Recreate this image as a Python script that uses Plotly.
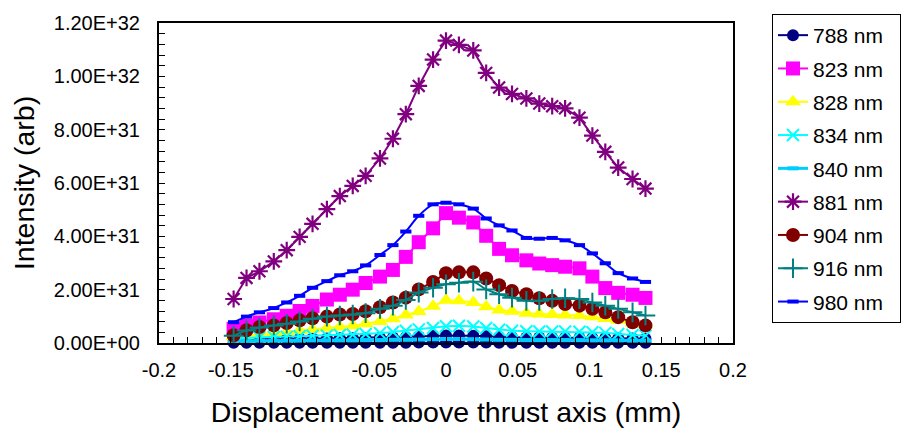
import plotly.graph_objects as go

# ---------------- data ----------------
x_mm = [-0.148, -0.139, -0.130, -0.120, -0.111, -0.102, -0.093, -0.083,
        -0.074, -0.065, -0.056, -0.046, -0.037, -0.028, -0.019, -0.009,
        0.000, 0.009, 0.019, 0.028, 0.037, 0.046, 0.056, 0.065,
        0.074, 0.083, 0.093, 0.102, 0.111, 0.120, 0.130, 0.139]

base_row = [1.0e29, 1.0e29, 1.0e29, 1.0e29, 1.0e29, 1.0e29, 1.0e29, 1.0e29,
            1.0e29, 1.0e29, 1.0e29, 1.0e29, 1.0e29, 1.0e29, 1.5e29, 1.5e29,
            2.0e29, 2.0e29, 1.5e29, 1.5e29, 1.0e29, 1.0e29, 1.0e29, 1.0e29,
            1.0e29, 1.0e29, 1.0e29, 1.0e29, 1.0e29, 1.0e29, 1.0e29, 1.0e29]

s788 = [1.3e30, 1.4e30, 1.5e30, 1.5e30, 1.6e30, 1.6e30, 1.7e30, 1.7e30,
        1.8e30, 1.8e30, 1.9e30, 2.0e30, 2.1e30, 2.2e30, 2.4e30, 2.6e30,
        2.8e30, 2.8e30, 2.7e30, 2.5e30, 2.3e30, 2.2e30, 2.1e30, 2.1e30,
        2.0e30, 2.0e30, 2.0e30, 1.9e30, 1.9e30, 1.8e30, 1.7e30, 1.6e30]

s823 = [5.3e30, 6.5e30, 7.7e30, 8.9e30, 1.02e31, 1.20e31, 1.39e31, 1.63e31,
        1.81e31, 2.00e31, 2.25e31, 2.49e31, 2.74e31, 3.23e31, 3.78e31, 4.30e31,
        4.87e31, 4.70e31, 4.52e31, 4.02e31, 3.53e31, 3.29e31, 3.10e31, 2.98e31,
        2.92e31, 2.86e31, 2.80e31, 2.49e31, 2.06e31, 1.88e31, 1.81e31, 1.69e31]

s828 = [2.3e30, 2.8e30, 3.3e30, 3.8e30, 4.2e30, 4.7e30, 5.2e30, 5.6e30,
        6.0e30, 6.5e30, 7.2e30, 8.1e30, 9.1e30, 1.05e31, 1.18e31, 1.38e31,
        1.60e31, 1.58e31, 1.52e31, 1.36e31, 1.24e31, 1.19e31, 1.12e31, 1.09e31,
        1.07e31, 1.05e31, 1.03e31, 9.8e30, 9.2e30, 8.5e30, 7.5e30, 6.8e30]

s834 = [1.8e30, 2.0e30, 2.1e30, 2.3e30, 2.4e30, 2.5e30, 2.7e30, 2.8e30,
        3.0e30, 3.1e30, 3.4e30, 3.7e30, 4.1e30, 4.6e30, 5.1e30, 5.6e30,
        6.3e30, 6.5e30, 6.2e30, 5.6e30, 5.0e30, 4.6e30, 4.4e30, 4.3e30,
        4.3e30, 4.3e30, 4.2e30, 4.0e30, 3.8e30, 3.4e30, 3.0e30, 2.7e30]

s840 = [0.8e30, 0.8e30, 0.9e30, 0.9e30, 0.9e30, 0.9e30, 1.0e30, 1.0e30,
        1.0e30, 1.0e30, 1.1e30, 1.1e30, 1.2e30, 1.2e30, 1.3e30, 1.4e30,
        1.5e30, 1.5e30, 1.4e30, 1.3e30, 1.2e30, 1.2e30, 1.1e30, 1.1e30,
        1.1e30, 1.1e30, 1.1e30, 1.0e30, 1.0e30, 1.0e30, 0.9e30, 0.9e30]

s881 = [1.65e31, 2.44e31, 2.69e31, 3.06e31, 3.48e31, 3.98e31, 4.47e31, 5.02e31,
        5.51e31, 5.89e31, 6.27e31, 6.92e31, 7.66e31, 8.58e31, 9.64e31, 1.063e32,
        1.134e32, 1.118e32, 1.097e32, 1.013e32, 9.58e31, 9.34e31, 9.17e31, 8.98e31,
        8.88e31, 8.80e31, 8.45e31, 7.78e31, 7.17e31, 6.58e31, 6.15e31, 5.79e31]

s904 = [2.9e30, 4.8e30, 6.0e30, 6.6e30, 7.5e30, 8.5e30, 9.3e30, 9.9e30,
        1.07e31, 1.09e31, 1.19e31, 1.34e31, 1.52e31, 1.70e31, 2.01e31, 2.29e31,
        2.62e31, 2.65e31, 2.65e31, 2.42e31, 2.17e31, 1.95e31, 1.83e31, 1.68e31,
        1.58e31, 1.46e31, 1.40e31, 1.28e31, 1.15e31, 9.7e30, 7.8e30, 6.6e30]

s916 = [2.7e30, 4.7e30, 5.8e30, 6.6e30, 7.2e30, 8.1e30, 9.1e30, 9.9e30,
        1.03e31, 1.07e31, 1.12e31, 1.28e31, 1.40e31, 1.61e31, 1.89e31, 2.07e31,
        2.20e31, 2.26e31, 2.30e31, 2.01e31, 1.83e31, 1.70e31, 1.58e31, 1.58e31,
        1.65e31, 1.68e31, 1.65e31, 1.52e31, 1.40e31, 1.28e31, 1.15e31, 1.03e31]

s980 = [7.8e30, 9.9e30, 1.15e31, 1.31e31, 1.52e31, 1.77e31, 2.07e31, 2.32e31,
        2.54e31, 2.69e31, 2.91e31, 3.30e31, 3.67e31, 4.18e31, 4.77e31, 5.20e31,
        5.26e31, 5.20e31, 5.04e31, 4.67e31, 4.41e31, 4.22e31, 3.94e31, 3.91e31,
        3.94e31, 3.85e31, 3.67e31, 3.36e31, 2.99e31, 2.62e31, 2.42e31, 2.29e31]

x_tickvals = [-0.2, -0.15, -0.1, -0.05, 0, 0.05, 0.1, 0.15, 0.2]
x_ticktext = ["-0.2", "-0.15", "-0.1", "-0.05", "0", "0.05", "0.1", "0.15", "0.2"]
y_tickvals = [0, 2e31, 4e31, 6e31, 8e31, 1e32, 1.2e32]
y_ticktext = ["0.00E+00", "2.00E+31", "4.00E+31", "6.00E+31", "8.00E+31",
              "1.00E+32", "1.20E+32"]

FONT = "Liberation Sans, Arial, sans-serif"
PAD = "\u00a0\u00a0"   # widens the legend box like the original

fig = go.Figure()

def add(name, y, color, symbol, size, lw=2, shape="linear", mline=None,
        legend=True, clip=True):
    marker = dict(symbol=symbol, size=size, color=color)
    if mline is not None:
        marker["line"] = dict(color=color, width=mline)
    else:
        marker["line"] = dict(width=0)
    fig.add_trace(go.Scatter(
        x=x_mm, y=y, name=name + PAD, mode="lines+markers",
        line=dict(color=color, width=lw, shape=shape),
        marker=marker, showlegend=legend, legendgroup=name,
        cliponaxis=clip))

add("base", base_row, "#000080", "circle", 12, legend=False, clip=False)
add("788 nm", s788, "#000080", "circle", 12, clip=False)
add("823 nm", s823, "#FF00FF", "square", 14)
add("828 nm", s828, "#FFFF00", "triangle-up", 14)
add("834 nm", s834, "#00FFFF", "x-thin-open", 12, mline=2)
add("840 nm", s840, "#00CCFF", "line-ew-open", 8, lw=3, mline=4, clip=False)
add("881 nm", s881, "#800080", "asterisk-open", 14, mline=2.2)
add("904 nm", s904, "#800000", "circle", 14)
add("916 nm", s916, "#008080", "cross-thin-open", 14, mline=2, shape="spline")
add("980 nm", s980, "#0000FF", "line-ew-open", 8, lw=2, mline=4, shape="spline")

fig.update_layout(
    width=911, height=435, autosize=False,
    margin=dict(l=159, r=178, t=17, b=92, pad=0),
    paper_bgcolor="white", plot_bgcolor="white",
    font=dict(family=FONT, color="black", size=20),
    legend=dict(xref="container", yref="container",
                x=772 / 911, y=1 - 14 / 435, xanchor="left", yanchor="top",
                maxheight=420,
                bordercolor="black", borderwidth=1, bgcolor="white",
                font=dict(family=FONT, size=21, color="black"),
                tracegroupgap=3),
    xaxis=dict(range=[-0.2, 0.2], tickmode="array", tickvals=x_tickvals,
               ticktext=x_ticktext, showgrid=False, zeroline=False,
               showline=True, linecolor="black", linewidth=2, mirror=True,
               ticks="inside", ticklen=6, tickcolor="black", tickwidth=1,
               ticklabelstandoff=8,
               minor=dict(dtick=0.01, ticks="inside", ticklen=6,
                          tickcolor="black", tickwidth=1, showgrid=False),
               tickfont=dict(size=20),
               title=dict(text="Displacement above thrust axis (mm)",
                          font=dict(size=28.5), standoff=22)),
    yaxis=dict(range=[0, 1.2e32], tickmode="array", tickvals=y_tickvals,
               ticktext=y_ticktext, showgrid=False, zeroline=False,
               showline=True, linecolor="black", linewidth=2, mirror=True,
               ticks="inside", ticklen=6, tickcolor="black", tickwidth=1,
               ticklabelstandoff=13,
               minor=dict(dtick=4e30, tick0=0, ticks="inside", ticklen=6,
                          tickcolor="black", tickwidth=1, showgrid=False),
               tickfont=dict(size=20),
               title=dict(text="Intensity (arb)", font=dict(size=28.5),
                          standoff=11)),
)

fig.write_html("out.html", config={"displayModeBar": False},
               post_script="document.body.style.margin='0';"
                           "document.body.style.padding='0';")
